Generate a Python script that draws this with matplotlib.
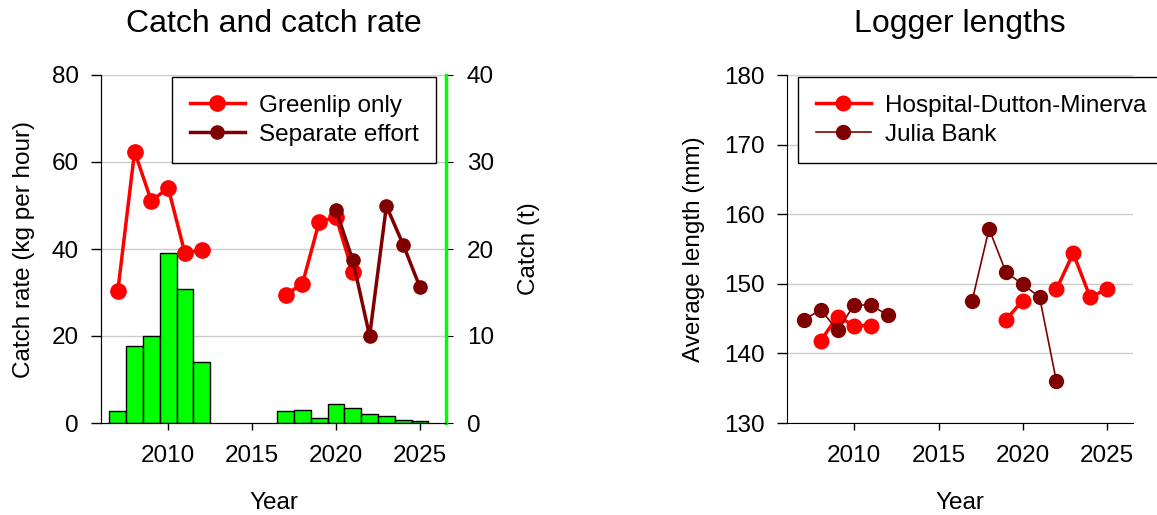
import numpy as np
import matplotlib
matplotlib.use("Agg")
import matplotlib.pyplot as plt

plt.rcParams['font.family'] = ['Liberation Sans', 'DejaVu Sans']

nan = np.nan
# Left panel data
catch_years = [2007, 2008, 2009, 2010, 2011, 2012, 2017, 2018, 2019, 2020, 2021, 2022, 2023, 2024, 2025]
catch_t = [1.4, 8.8, 10.0, 19.5, 15.4, 7.0, 1.4, 1.5, 0.55, 2.2, 1.7, 1.0, 0.8, 0.35, 0.2]

rate_years = list(range(2007, 2026))
greenlip_only = [30.3, 62.4, 51.0, 54.1, 39.0, 39.8, nan, nan, nan, nan,
                 29.5, 32.0, 46.3, 47.3, 34.6, nan, nan, nan, nan]
separate_effort = [nan, nan, nan, nan, nan, nan, nan, nan, nan, nan,
                   nan, nan, nan, 48.9, 37.4, 20.0, 49.9, 41.0, 31.2]

# Right panel data
len_years = list(range(2007, 2026))
hdm = [nan, 141.8, 145.3, 144.0, 144.0, nan, nan, nan, nan, nan,
       nan, nan, 144.8, 147.6, nan, 149.2, 154.4, 148.1, 149.2]
julia = [144.8, 146.3, 143.3, 147.0, 146.9, 145.5, nan, nan, nan, nan,
         147.6, 157.9, 151.7, 149.9, 148.1, 136.0, nan, nan, nan]

RED = '#FF0000'
DARK = '#800000'
GREEN = '#00FF00'
GRID = '#CCCCCC'
FS = 17.5
TFS = 23

W, H = 1157, 515
fig = plt.figure(figsize=(W / 100, H / 100), dpi=100)

def style_axes(ax):
    ax.tick_params(axis='both', labelsize=FS, direction='out', color='black')
    ax.tick_params(axis='y', length=7, width=1, pad=9)
    ax.tick_params(axis='x', length=5, width=1, pad=11)
    ax.spines['top'].set_visible(False)
    ax.grid(axis='y', color=GRID, linewidth=1)
    ax.set_axisbelow(True)

LEG_KW = dict(fontsize=FS, frameon=True, fancybox=False, edgecolor='black', framealpha=1,
              handlelength=2.26, handletextpad=0.58, borderpad=0.72, labelspacing=0.3,
              borderaxespad=0)

# Left panel
ax1 = fig.add_axes([101 / W, (H - 423) / H, 345 / W, 348 / H])
ax2 = ax1.twinx()
ax2.bar(catch_years, catch_t, width=1.0, color=GREEN, edgecolor='black', linewidth=1, zorder=1)
ax2.set_ylim(0, 40)
ax2.set_yticks([0, 10, 20, 30, 40])
ax2.tick_params(axis='y', labelsize=FS, length=5, pad=10, color='black')
ax2.spines['right'].set_color(GREEN)
ax2.spines['right'].set_linewidth(2.5)
ax2.spines['top'].set_visible(False)
ax2.set_ylabel('Catch (t)', fontsize=FS, labelpad=17)

ax1.set_zorder(ax2.get_zorder() + 1)
ax1.patch.set_visible(False)
ax1.set_xlim(2006.0, 2026.55)
ax1.set_ylim(0, 80)
ax1.set_yticks([0, 20, 40, 60, 80])
ax1.set_xticks([2010, 2015, 2020, 2025])
style_axes(ax1)
ax1.spines['right'].set_visible(False)
ax1.grid(False)
for v in [20, 40, 60, 80]:
    ax2.axhline(v / 2, color=GRID, linewidth=1, zorder=0)

ax1.plot(rate_years, greenlip_only, '-o', color=RED, lw=2.5, ms=11, label='Greenlip only')
ax1.plot(rate_years, separate_effort, '-o', color=DARK, lw=2.5, ms=9.5, label='Separate effort')
ax1.set_ylabel('Catch rate (kg per hour)', fontsize=FS, labelpad=12)
ax1.set_xlabel('Year', fontsize=FS, labelpad=18)
ax1.set_title('Catch and catch rate', fontsize=TFS, pad=31)
leg1 = ax1.legend(loc='upper right', bbox_to_anchor=(0.971, 0.994), **LEG_KW)
leg1.get_frame().set_linewidth(1)

# Right panel
ax3 = fig.add_axes([787 / W, (H - 423) / H, 346 / W, 348 / H])
ax3.set_xlim(2006.0, 2026.55)
ax3.set_ylim(130, 180)
ax3.set_yticks([130, 140, 150, 160, 170, 180])
ax3.set_xticks([2010, 2015, 2020, 2025])
style_axes(ax3)
ax3.spines['right'].set_visible(False)
ax3.plot(len_years, hdm, '-o', color=RED, lw=2.5, ms=10.5, label='Hospital-Dutton-Minerva')
ax3.plot(len_years, julia, '-o', color=DARK, lw=1.2, ms=10, label='Julia Bank')
ax3.set_ylabel('Average length (mm)', fontsize=FS, labelpad=14)
ax3.set_xlabel('Year', fontsize=FS, labelpad=18)
ax3.set_title('Logger lengths', fontsize=TFS, pad=31)
leg3 = ax3.legend(loc='upper left', bbox_to_anchor=(0.032, 0.994), **LEG_KW)
leg3.get_frame().set_linewidth(1)

fig.savefig('out.png', dpi=100)
